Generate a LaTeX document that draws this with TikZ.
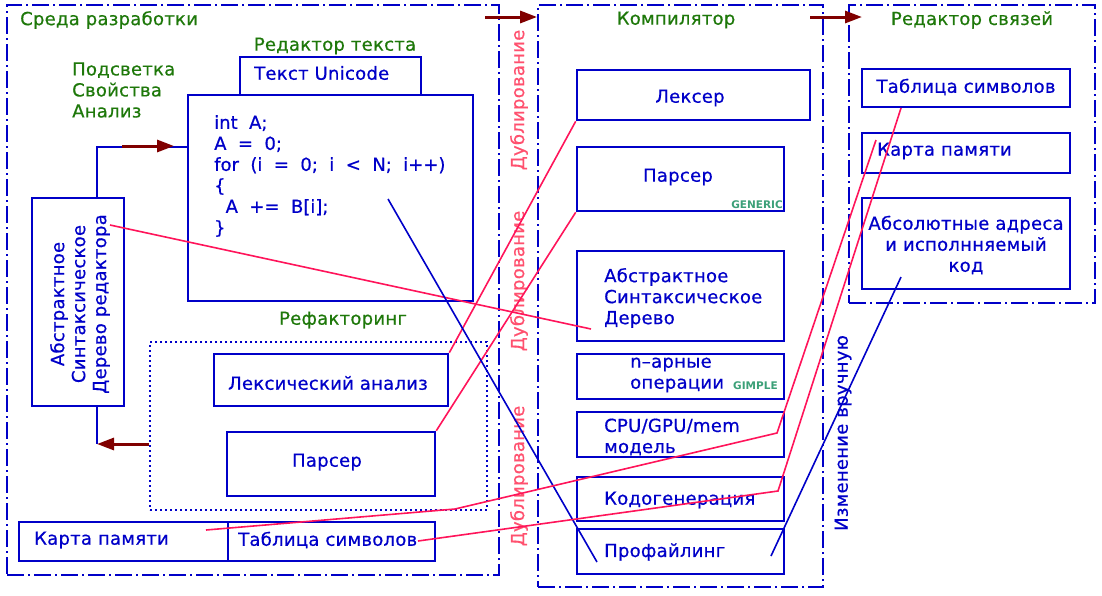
\documentclass[tikz,border=0pt]{standalone}
\usepackage{fontspec}
\setmainfont{DejaVu Sans}[LetterSpace=1.5,FakeBold=0.6]
\newfontfamily\codefont{DejaVu Sans}[WordSpace=2,FakeBold=0.6]
\newfontfamily\smallfont{DejaVu Sans Bold}
\usetikzlibrary{arrows.meta,fit}
\definecolor{cblue}{RGB}{0,0,200}
\definecolor{cgreen}{RGB}{30,120,10}
\definecolor{cred}{RGB}{255,20,90}
\definecolor{cpink}{RGB}{255,80,110}
\definecolor{cmaroon}{RGB}{128,0,0}
\definecolor{cteal}{RGB}{60,160,120}
\tikzset{
  bx/.style={draw=cblue, line width=2.6pt, inner sep=0pt},
  frame/.style={draw=cblue, line width=1.8pt, inner sep=0pt, dash pattern=on 17pt off 4pt on 2pt off 4pt},
  dotbox/.style={draw=cblue, line width=1.8pt, inner sep=0pt, dash pattern=on 1.8pt off 3.2pt},
  btxt/.style={text=cblue, inner sep=0pt},
  gtxt/.style={text=cgreen, inner sep=0pt},
  rtxt/.style={text=cpink, inner sep=0pt, rotate=90},
  small/.style={text=cteal, inner sep=0pt, font=\fontsize{10.5}{12}\smallfont},
  redln/.style={draw=cred, line width=1.6pt},
  blueln/.style={draw=cblue, line width=1.6pt},
  marrow/.style={draw=cmaroon, line width=3pt, -{Triangle[length=17pt,width=12pt]}},
}
\begin{document}
\begin{tikzpicture}[x=1pt,y=-1pt,font=\fontsize{18}{21}\selectfont]
\useasboundingbox (0,0) rectangle (1102,595);
% frames
\node[frame, fit={(7,5) (499,575)}] (F1) {};
\node[frame, fit={(538,5) (823,587)}] (F2) {};
\node[frame, fit={(849,5) (1095,303)}] (F3) {};
\node[dotbox, fit={(150,342) (487,510)}] (refac) {};
% left boxes
\node[bx, fit={(240,57) (421,95)}] (uni) {};
\node[bx, fit={(188,95) (473,301)}] (code) {};
\node[bx, fit={(32,198) (124,406)}] (asted) {};
\node[bx, fit={(214,354) (448,406)}] (lexan) {};
\node[bx, fit={(227,432) (435,496)}] (parsL) {};
\node[bx, fit={(19,522) (228,561)}] (kartaL) {};
\node[bx, fit={(228,522) (435,561)}] (tablL) {};
% compiler boxes
\node[bx, fit={(577,70) (810,120)}] (lexer) {};
\node[bx, fit={(577,147) (784,211)}] (parsC) {};
\node[bx, fit={(577,251) (784,341)}] (astC) {};
\node[bx, fit={(577,354) (784,399)}] (nary) {};
\node[bx, fit={(577,412) (784,457)}] (cpu) {};
\node[bx, fit={(577,477) (784,521)}] (cgen) {};
\node[bx, fit={(577,529) (784,574)}] (prof) {};
% linker boxes
\node[bx, fit={(862,69) (1070,107)}] (tablR) {};
\node[bx, fit={(862,133) (1070,173)}] (kartaR) {};
\node[bx, fit={(862,198) (1070,289)}] (absR) {};
% texts
\node[gtxt, anchor=west] (t1) at (20,20) {Среда разработки};
\node[gtxt] (t2) at (335,46) {Редактор текста};
\node[gtxt, anchor=west, align=left] (t3) at (72,90) {Подсветка\\Свойства\\Анализ};
\node[btxt, anchor=west] (t4) at (254,73) {Текст Unicode};
\node[btxt, anchor=west, align=left, font=\fontsize{18}{21}\codefont] (t5) at (214,176) {int A;\\A = 0;\\for (i = 0; i < N; i++)\\\{\\\ A += B[i];\\\}};
\node[btxt, rotate=90, align=center] (t6) at (80,304) {Абстрактное\\Синтаксическое\\Дерево редактора};
\node[gtxt] (t7) at (343,320) {Рефакторинг};
\node[btxt] (t8) at (328,383) {Лексический анализ};
\node[btxt] (t9) at (327,462) {Парсер};
\node[btxt, anchor=west] (t10) at (34,540) {Карта памяти};
\node[btxt, anchor=west] (t11) at (238,540) {Таблица символов};
\node[gtxt] (t12) at (676,20) {Компилятор};
\node[btxt] (t13) at (690,98) {Лексер};
\node[btxt] (t14) at (678,177) {Парсер};
\node[small, anchor=east] (t15) at (783,205) {GENERIC};
\node[btxt, anchor=west, align=left] (t16) at (604,298) {Абстрактное\\Синтаксическое\\Дерево};
\node[btxt, anchor=west, align=left] (t17) at (630,375) {n–арные\\операции};
\node[small, anchor=west] (t18) at (733,386) {GIMPLE};
\node[btxt, anchor=west, align=left] (t19) at (604,437) {CPU/GPU/mem\\модель};
\node[btxt, anchor=west] (t20) at (604,500) {Кодогенерация};
\node[btxt, anchor=west] (t21) at (604,552) {Профайлинг};
\node[gtxt] (t22) at (972,20) {Редактор связей};
\node[btxt] (t23) at (966,87) {Таблица символов};
\node[btxt, anchor=west] (t24) at (877,151) {Карта памяти};
\node[btxt, align=center] (t25) at (966,245) {Абсолютные адреса\\и исполнняемый\\код};
\node[btxt, rotate=90] (t26) at (843,433) {Изменение вручную};
\node[rtxt] (d1) at (519,100) {Дублирование};
\node[rtxt] (d2) at (519,281) {Дублирование};
\node[rtxt] (d3) at (519,476) {Дублирование};
% coordinates for free ends
\coordinate (c1) at (97,147);
\coordinate (c2) at (97,444);
\coordinate (a1s) at (122,146);
\coordinate (a1e) at (174,146);
\coordinate (a2s) at (485,17);
\coordinate (a3s) at (810,17);
\coordinate (a3e) at (862,17);
\coordinate (astedp) at (110,225);
\coordinate (astCp) at (591,329);
\coordinate (codep) at (388,199);
\coordinate (profp) at (597,562);
\coordinate (kLp) at (206,530);
\coordinate (k1) at (455,509);
\coordinate (k2) at (777,433);
\coordinate (kRp) at (876,140);
\coordinate (tLp) at (418,541);
\coordinate (k3) at (778,491);
\coordinate (tRp) at (901,108);
\coordinate (prof2) at (771,556);
\coordinate (absp) at (901,277);
% connectors
\draw[blueln] (asted.north -| c1) -- (c1) -- (c1 -| code.west);
\draw[blueln] (asted.south -| c2) -- (c2);
\draw[marrow] (a1s) -- (a1e);
\draw[marrow] (refac.west |- c2) -- (c2);
\draw[marrow] (a2s) -- (F2.west |- a2s);
\draw[marrow] (a3s) -- (a3e);
\draw[redln] (astedp) -- (astCp);
\draw[redln] (lexan.north east) -- (lexer.south west);
\draw[redln] (parsL.north east) -- (parsC.south west);
\draw[blueln] (codep) -- (profp);
\draw[redln] (kLp) -- (k1) -- (k2) -- (kRp);
\draw[redln] (tLp) -- (k3) -- (tRp);
\draw[blueln] (prof2) -- (absp);
\end{tikzpicture}
\end{document}
